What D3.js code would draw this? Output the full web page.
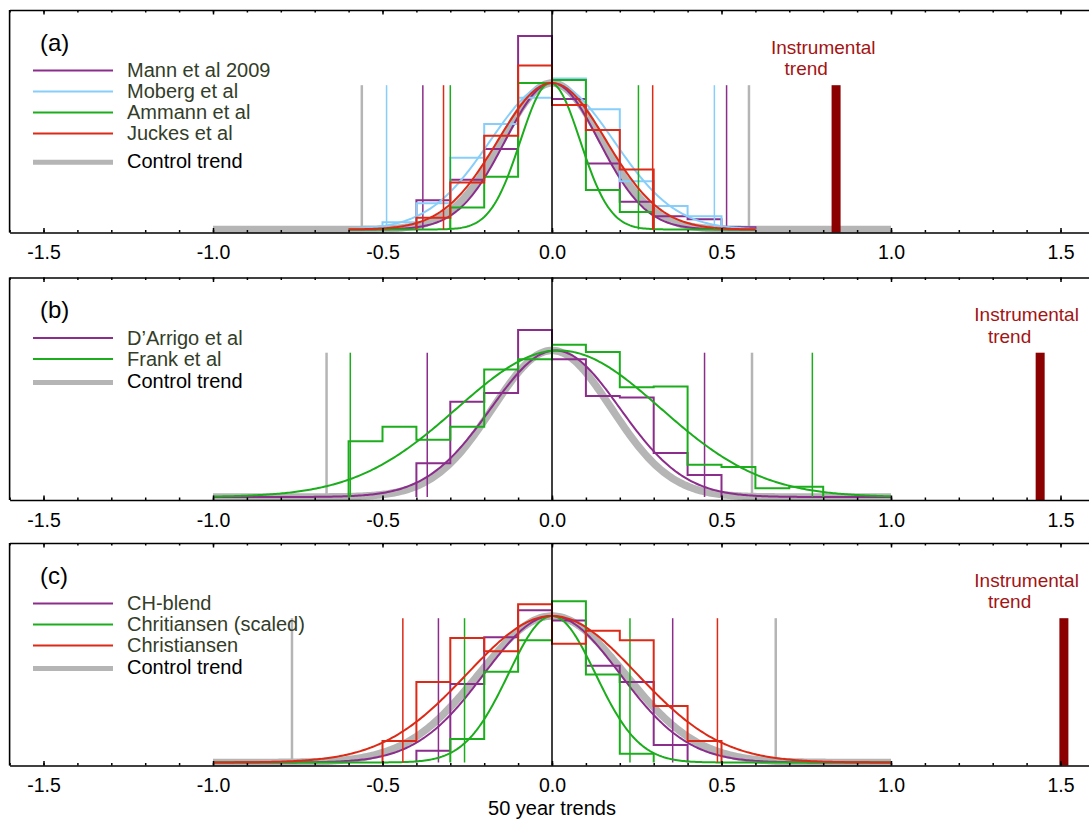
<!DOCTYPE html>
<html><head><meta charset="utf-8">
<script src="https://cdn.jsdelivr.net/npm/d3@7"></script>
<style>body{margin:0;background:#fff} svg{display:block}</style>
</head><body><svg id="chart" width="1089" height="821"></svg>
<script>
// ---------------- DATA ----------------
const tickValues = [-1.5, -1.0, -0.5, 0.0, 0.5, 1.0, 1.5];
const tickLabels = ["-1.5", "-1.0", "-0.5", "0.0", "0.5", "1.0", "1.5"];
const minorTickValues = d3.range(-16, 17).map(d => d / 10);
const binWidth = 0.1;
const panelLabels = ["(a)", "(b)", "(c)"];
const xTitle = "50 year trends";
const instrumentalTrend = [0.838, 1.44, 1.51];
const instrumentalLabelX = [0.80, 1.40, 1.40];
const controlSigma = [0.148, 0.175, 0.215];
const controlRange = [[-0.561, 0.581], [-0.665, 0.59], [-0.767, 0.66]];
const fitExtent = [[-0.6, 0.6], [-1.0, 1.0], [-1.0, 1.0]];

// panel (a)
const aNames = ["Mann et al 2009", "Moberg et al", "Ammann et al", "Juckes et al"];
const aHistStart = [-0.4, -0.5, -0.3, -0.4];
const aHistMann = [0.20, 0.34, 0.55, 1.32, 0.89, 0.45, 0.19, 0.09, 0.07, 0.016];
const aHistMoberg = [0.05, 0.18, 0.49, 0.72, 0.90, 1.03, 0.82, 0.33, 0.16, 0.09];
const aHistAmmann = [0.15, 0.36, 1.00, 1.02, 0.27, 0.12];
const aHistJuckes = [0.08, 0.32, 0.64, 1.12, 0.85, 0.68, 0.41];
const aMean = [0.0, 0.0, -0.005, 0.0];
const aSigma = [0.138, 0.182, 0.088, 0.16];
const aRange = [[-0.381, 0.515], [-0.488, 0.479], [-0.30, 0.255], [-0.32, 0.297]];

// panel (b)
const bNames = ["D\u2019Arrigo et al", "Frank et al"];
const bHistStart = [-0.4, -0.6];
const bHistDArrigo = [0.23, 0.65, 0.71, 1.14, 0.94, 0.69, 0.68, 0.30, 0.15];
const bHistFrank = [0.38, 0.48, 0.39, 0.48, 0.87, 0.94, 1.04, 0.99, 0.75, 0.755, 0.22, 0.205, 0.06, 0.07];
const bMean = [0.01, 0.02];
const bSigma = [0.19, 0.30];
const bRange = [[-0.368, 0.45], [-0.595, 0.768]];

// panel (c)
const cNames = ["CH-blend", "Chritiansen (scaled)", "Christiansen"];
const cHistStart = [-0.4, -0.3, -0.5];
const cHistCHblend = [0.08, 0.535, 0.855, 1.04, 0.97, 0.66, 0.55, 0.12];
const cHistScaled = [0.16, 0.62, 0.835, 1.10, 0.60, 0.06];
const cHistChristiansen = [0.146, 0.55, 0.85, 0.76, 1.08, 0.81, 0.90, 0.835, 0.385, 0.146];
const cMean = [0.0, 0.0, 0.0];
const cSigma = [0.20, 0.128, 0.25];
const cRange = [[-0.335, 0.356], [-0.258, 0.23], [-0.44, 0.488]];

// ---------------- STYLE / LAYOUT ----------------
const C = {purple: "#8b2d8b", blue: "#87cefa", green: "#1cad1c", red: "#dc2a16",
           gray: "#b5b5b5", instr: "#8b0000", instrText: "#a31414", legText: "#333d29"};
const FONT = "'Liberation Sans', Arial, Helvetica, sans-serif";

const panels = [
  {top: 10, names: aNames, colors: [C.purple, C.blue, C.green, C.red],
   hists: [aHistMann, aHistMoberg, aHistAmmann, aHistJuckes], starts: aHistStart,
   mean: aMean, sigma: aSigma, range: aRange, ctrlGap: 28.7},
  {top: 277.5, names: bNames, colors: [C.purple, C.green],
   hists: [bHistDArrigo, bHistFrank], starts: bHistStart,
   mean: bMean, sigma: bSigma, range: bRange, ctrlGap: 23.4},
  {top: 543, names: cNames, colors: [C.purple, C.green, C.red],
   hists: [cHistCHblend, cHistScaled, cHistChristiansen], starts: cHistStart,
   mean: cMean, sigma: cSigma, range: cRange, ctrlGap: 23}
];
const panelH = 222.5;

const svg = d3.select("#chart");
const x = d3.scaleLinear().domain([-1.6, 1.6]).range([9.6, 1094.4]);
const gauss = (m, s) => v => Math.exp(-((v - m) * (v - m)) / (2 * s * s));
const sampleXs = (lo, hi) => d3.range(lo, hi + 0.0001, 0.005);

panels.forEach((p, pi) => {
  const bottom = p.top + panelH;
  const y = d3.scaleLinear().domain([0, 1]).range([bottom - 3, p.top + 73]);
  const g = svg.append("g");
  const lineTop = 0.985;

  // control curve (thick gray)
  const cf = gauss(0, controlSigma[pi]);
  g.append("path")
    .attr("d", d3.line().x(d => x(d)).y(d => y(cf(d)))(sampleXs(-1, 1)))
    .attr("fill", "none").attr("stroke", C.gray).attr("stroke-width", 7.5);
  controlRange[pi].forEach(v => {
    g.append("line").attr("x1", x(v)).attr("x2", x(v))
      .attr("y1", y(0)).attr("y2", y(lineTop))
      .attr("stroke", C.gray).attr("stroke-width", 2.5);
  });

  // series
  const fx = sampleXs(fitExtent[pi][0], fitExtent[pi][1]);
  p.hists.forEach((h, si) => {
    const col = p.colors[si];
    const start = p.starts[si];
    const pts = [[start, 0]];
    h.forEach((v, k) => {
      const x0 = start + k * binWidth, x1 = x0 + binWidth;
      pts.push([x0, v]); pts.push([x1, v]);
    });
    pts.push([start + h.length * binWidth, 0]);
    g.append("path")
      .attr("d", d3.line().x(d => x(d[0])).y(d => y(d[1]))(pts))
      .attr("fill", "none").attr("stroke", col).attr("stroke-width", 2)
      .attr("stroke-linejoin", "miter");
    const f = gauss(p.mean[si], p.sigma[si]);
    g.append("path")
      .attr("d", d3.line().x(d => x(d)).y(d => y(f(d)))(fx))
      .attr("fill", "none").attr("stroke", col).attr("stroke-width", 2);
    p.range[si].forEach(v => {
      g.append("line").attr("x1", x(v)).attr("x2", x(v))
        .attr("y1", y(0)).attr("y2", y(lineTop))
        .attr("stroke", col).attr("stroke-width", 1.5);
    });
  });

  // zero line
  g.append("line").attr("x1", x(0)).attr("x2", x(0))
    .attr("y1", p.top).attr("y2", bottom)
    .attr("stroke", "#000").attr("stroke-width", 1.5);

  // instrumental trend
  g.append("rect").attr("x", x(instrumentalTrend[pi]) - 4.5).attr("width", 9)
    .attr("y", y(lineTop)).attr("height", y(0) - y(lineTop) + 3)
    .attr("fill", C.instr);
  const lx = x(instrumentalLabelX[pi]);
  const it = g.append("text").attr("font-family", FONT).attr("font-size", 19)
    .attr("fill", C.instrText).attr("text-anchor", "middle");
  it.append("tspan").attr("x", lx).attr("y", p.top + 43.5).text("Instrumental");
  it.append("tspan").attr("x", lx - 17).attr("y", p.top + 65).text("trend");

  // frame
  g.append("line").attr("x1", x(-1.6)).attr("x2", x(-1.6)).attr("y1", p.top).attr("y2", bottom)
    .attr("stroke", "#000").attr("stroke-width", 1.6);
  g.append("line").attr("x1", x(1.6)).attr("x2", x(1.6)).attr("y1", p.top).attr("y2", bottom)
    .attr("stroke", "#000").attr("stroke-width", 1.6);

  const axB = g.append("g").attr("transform", `translate(0,${bottom})`)
    .call(d3.axisBottom(x).tickValues(tickValues).tickSizeInner(-4.5).tickSizeOuter(0)
      .tickPadding(12.8).tickFormat((d, i) => tickLabels[i]));
  axB.select(".domain").attr("stroke-width", 1.6);
  axB.selectAll(".tick line").attr("stroke-width", 1.5);
  axB.selectAll("text").attr("font-family", FONT).attr("font-size", 19.5).attr("fill", "#000");
  const axBm = g.append("g").attr("transform", `translate(0,${bottom})`)
    .call(d3.axisBottom(x).tickValues(minorTickValues).tickSizeInner(-2.5).tickSizeOuter(0).tickFormat(""));
  axBm.select(".domain").remove();
  axBm.selectAll(".tick line").attr("stroke-width", 1.5);

  const axT = g.append("g").attr("transform", `translate(0,${p.top})`)
    .call(d3.axisTop(x).tickValues(tickValues).tickSizeInner(-4.5).tickSizeOuter(0).tickFormat(""));
  axT.select(".domain").attr("stroke-width", 1.6);
  axT.selectAll(".tick line").attr("stroke-width", 1.5);
  const axTm = g.append("g").attr("transform", `translate(0,${p.top})`)
    .call(d3.axisTop(x).tickValues(minorTickValues).tickSizeInner(-2.5).tickSizeOuter(0).tickFormat(""));
  axTm.select(".domain").remove();
  axTm.selectAll(".tick line").attr("stroke-width", 1.5);

  // panel label
  g.append("text").attr("x", 40).attr("y", p.top + 40.5)
    .attr("font-family", FONT).attr("font-size", 24).attr("fill", "#000").text(panelLabels[pi]);

  // legend
  const legY = i => p.top + 60.5 + i * 21;
  p.names.forEach((nm, si) => {
    g.append("line").attr("x1", 33).attr("x2", 113).attr("y1", legY(si)).attr("y2", legY(si))
      .attr("stroke", p.colors[si]).attr("stroke-width", 2);
    g.append("text").attr("x", 127).attr("y", legY(si) + 6.5)
      .attr("font-family", FONT).attr("font-size", 20).attr("fill", C.legText).text(nm);
  });
  const cy = legY(p.names.length - 1) + p.ctrlGap;
  g.append("line").attr("x1", 33).attr("x2", 113).attr("y1", cy).attr("y2", cy)
    .attr("stroke", C.gray).attr("stroke-width", 5);
  g.append("text").attr("x", 127).attr("y", cy + 5.5)
    .attr("font-family", FONT).attr("font-size", 20).attr("fill", "#000").text("Control trend");
});

svg.append("text").attr("x", x(0)).attr("y", 815).attr("text-anchor", "middle")
  .attr("font-family", FONT).attr("font-size", 20).attr("fill", "#000").text(xTitle);
</script></body></html>
